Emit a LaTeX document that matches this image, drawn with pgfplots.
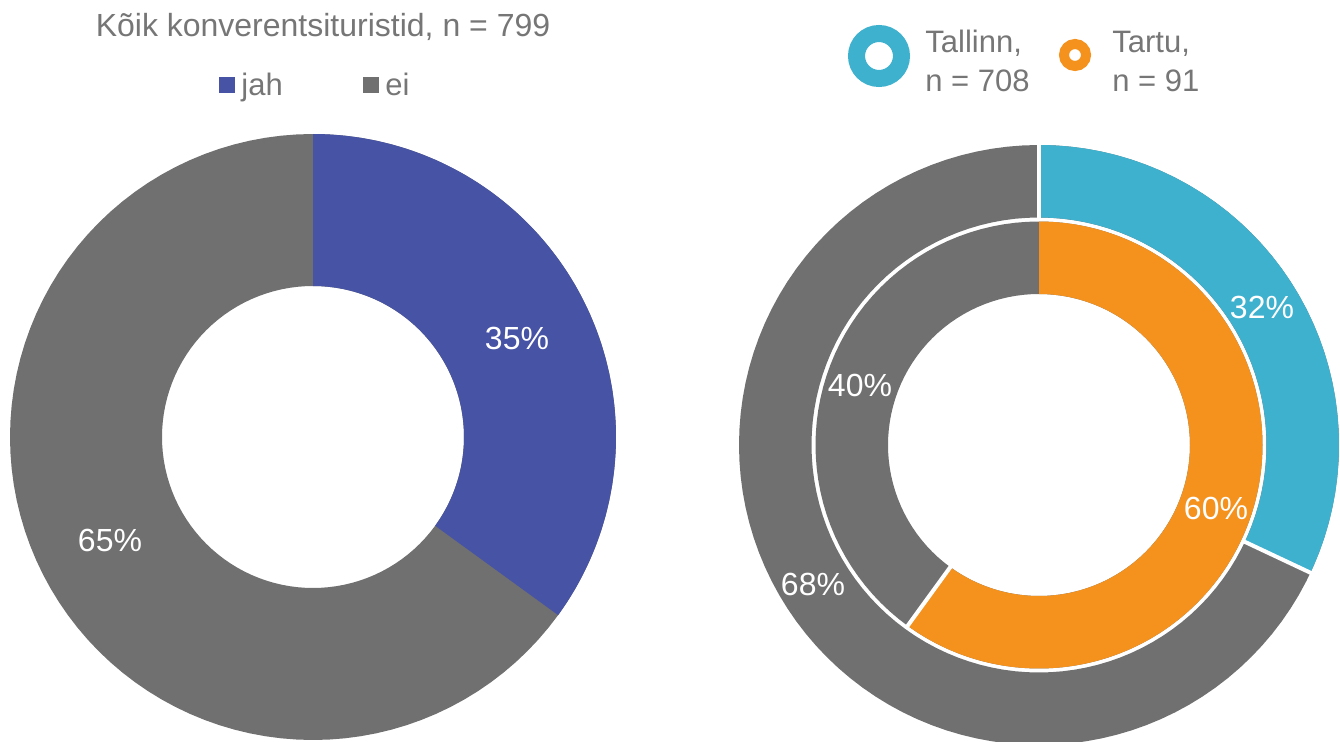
\documentclass[border=0pt]{standalone}
\usepackage{pgfplots}
\pgfplotsset{compat=1.18}
\usepackage{fontspec}
\setmainfont{Liberation Sans}

\definecolor{jah}{HTML}{4753A5}
\definecolor{ei}{HTML}{707070}
\definecolor{tln}{HTML}{3EB1CE}
\definecolor{trt}{HTML}{F5921E}
\definecolor{txt}{HTML}{767676}

% ring segment: cx, cy, inner r, outer r, from %, to %, colour (clockwise from top)
% t in [0,1] outer arc, [1,2] radial edge, [2,3] inner arc back
\newcommand{\seg}[7]{%
  \addplot[fill=#7, draw=none, domain=0:3, samples=361, variable=\t]
  ({#1+(#4-(#4-#3)*min(max(\t-1,0),1))*sin(3.6*(#5+(min(\t,1)-max(\t-2,0))*(#6-#5)))},
   {#2+(#4-(#4-#3)*min(max(\t-1,0),1))*cos(3.6*(#5+(min(\t,1)-max(\t-2,0))*(#6-#5)))});
}
% white radial separator
\newcommand{\sep}[5]{%
  \addplot[white, line width=2pt, domain=#3:#4, samples=2]
  ({#1+x*sin(3.6*#5)},{#2+x*cos(3.6*#5)});
}

\begin{document}
\begin{tikzpicture}
\begin{axis}[
    x=0.5pt, y=0.5pt,
    xmin=0, xmax=1340, ymin=0, ymax=741,
    hide axis,
    clip=true,
]
\draw[draw=none] (rel axis cs:0,0) rectangle (rel axis cs:1,1);

% all conference tourists: jah 35, ei 65 (ei laid as a full ring underneath)
\seg{313}{304}{151}{303}{10}{110}{ei}
\seg{313}{304}{151}{303}{0}{35}{jah}

% outer ring Tallinn: jah 32, ei 68
\seg{1039}{296}{227.5}{300}{10}{110}{ei}
\seg{1039}{296}{227.5}{300}{0}{32}{tln}
% inner ring Tartu: jah 60, ei 40
\seg{1039}{296}{151}{223.5}{10}{110}{ei}
\seg{1039}{296}{151}{223.5}{0}{60}{trt}
\sep{1039}{296}{226}{302}{0}
\sep{1039}{296}{226}{302}{32}
\sep{1039}{296}{150}{225}{60}

\tikzset{lbl/.style={white, font=\fontsize{16}{19}\selectfont}}
\node[lbl] at (axis cs:517,403) {35\%};
\node[lbl] at (axis cs:110,201) {65\%};
\node[lbl] at (axis cs:1262,434) {32\%};
\node[lbl] at (axis cs:1216,233) {60\%};
\node[lbl] at (axis cs:860,356) {40\%};
\node[lbl] at (axis cs:813,157) {68\%};

% title and legends
\tikzset{lg/.style={txt, font=\fontsize{15.5}{18}\selectfont, inner sep=0pt}}
\node[lg, font=\fontsize{16}{19}\selectfont, anchor=base] at (axis cs:323,704) {Kõik konverentsituristid, n = 799};
\fill[jah] (axis cs:219,648) rectangle (axis cs:235,664);
\node[lg, anchor=base west] at (axis cs:241,645) {jah};
\fill[ei] (axis cs:363,648) rectangle (axis cs:379,664);
\node[lg, anchor=base west] at (axis cs:385,645) {ei};

\draw[tln, line width=8.5pt] (axis cs:879,685) circle[radius=11.25pt];
\node[lg, anchor=base west] at (axis cs:925,688) {Tallinn,};
\node[lg, anchor=base west] at (axis cs:925,649) {n = 708};
\draw[trt, line width=5pt] (axis cs:1075,686) circle[radius=5.5pt];
\node[lg, anchor=base west] at (axis cs:1112,688) {Tartu,};
\node[lg, anchor=base west] at (axis cs:1112,649) {n = 91};
\end{axis}
\end{tikzpicture}
\end{document}
